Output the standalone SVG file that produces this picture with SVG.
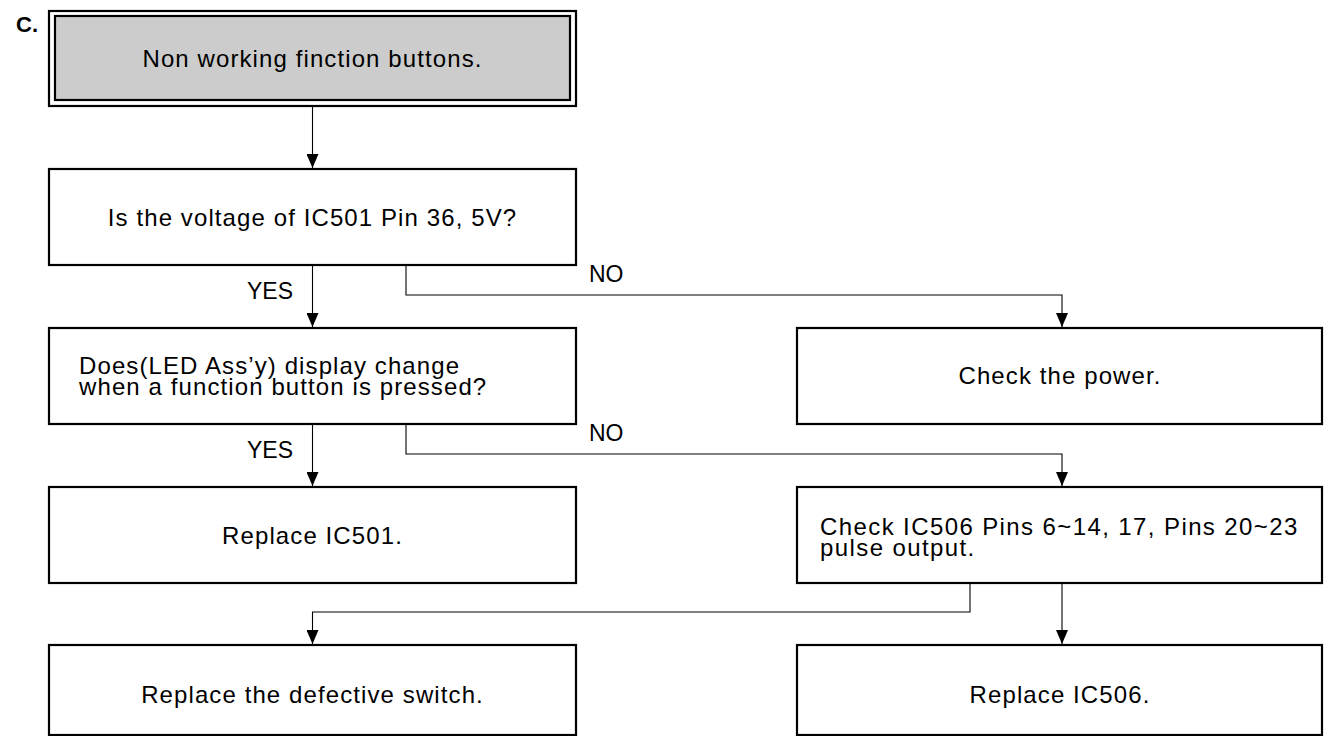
<svg xmlns="http://www.w3.org/2000/svg" width="1327" height="736" viewBox="0 0 1327 736">
<style>
  .box{fill:#fff;stroke:#000;stroke-width:2.2}
  .t{font-family:"Liberation Sans",Arial,sans-serif;font-size:24px;fill:#000;letter-spacing:1.1px}
  .c{text-anchor:middle}
  .lbl{font-family:"Liberation Sans",Arial,sans-serif;font-size:23px;fill:#000}
  .ln{fill:none;stroke:#000;stroke-width:1.1}
</style>
<defs>
  <marker id="ah" viewBox="0 0 14 12" refX="14" refY="6" markerWidth="14" markerHeight="12" markerUnits="userSpaceOnUse" orient="auto">
    <path d="M0,0 L14,6 L0,12 Z" fill="#000"/>
  </marker>
</defs>
<rect width="1327" height="736" fill="#fff"/>
<text x="16" y="32" style="font-family:'Liberation Sans',Arial,sans-serif;font-size:22px;font-weight:bold">C.</text>

<g id="start">
  <rect x="49" y="11" width="527" height="95" fill="#fff" stroke="#000" stroke-width="2.2"/>
  <rect x="55" y="16" width="515" height="84" fill="#cccccc" stroke="#000" stroke-width="2.2"/>
  <text class="t c" x="312.5" y="67">Non working finction buttons.</text>
</g>
<g id="q1">
  <rect class="box" x="49" y="169" width="527" height="96"/>
  <text class="t c" x="312.5" y="226">Is the voltage of IC501 Pin 36, 5V?</text>
</g>
<g id="q2">
  <rect class="box" x="49" y="328" width="527" height="96"/>
  <text class="t" x="79" y="374">Does(LED Ass’y) display change</text>
  <text class="t" x="79" y="395">when a function button is pressed?</text>
</g>
<g id="power">
  <rect class="box" x="797" y="328" width="525" height="96"/>
  <text class="t c" x="1060" y="384">Check the power.</text>
</g>
<g id="ic501">
  <rect class="box" x="49" y="487" width="527" height="96"/>
  <text class="t c" x="312.5" y="544">Replace IC501.</text>
</g>
<g id="ic506check">
  <rect class="box" x="797" y="487" width="525" height="96"/>
  <text class="t" x="820" y="535" style="letter-spacing:1.4px">Check IC506 Pins 6~14, 17, Pins 20~23</text>
  <text class="t" x="820" y="556" style="letter-spacing:1.4px">pulse output.</text>
</g>
<g id="switch">
  <rect class="box" x="49" y="645" width="527" height="90"/>
  <text class="t c" x="312.5" y="703">Replace the defective switch.</text>
</g>
<g id="ic506">
  <rect class="box" x="797" y="645" width="525" height="90"/>
  <text class="t c" x="1060" y="703">Replace IC506.</text>
</g>

<g id="connectors">
  <path class="ln" d="M312.5,107 V168" marker-end="url(#ah)"/>
  <path class="ln" d="M312.5,265 V327" marker-end="url(#ah)"/>
  <path class="ln" d="M406,265 V295 H1062 V327" marker-end="url(#ah)"/>
  <path class="ln" d="M312.5,424 V486" marker-end="url(#ah)"/>
  <path class="ln" d="M406,424 V454 H1062 V486" marker-end="url(#ah)"/>
  <path class="ln" d="M970,583 V612 H312.5 V644" marker-end="url(#ah)"/>
  <path class="ln" d="M1062,583 V644" marker-end="url(#ah)"/>
  <text class="lbl" x="247" y="299">YES</text>
  <text class="lbl" x="589" y="282">NO</text>
  <text class="lbl" x="247" y="458">YES</text>
  <text class="lbl" x="589" y="441">NO</text>
</g>
</svg>
